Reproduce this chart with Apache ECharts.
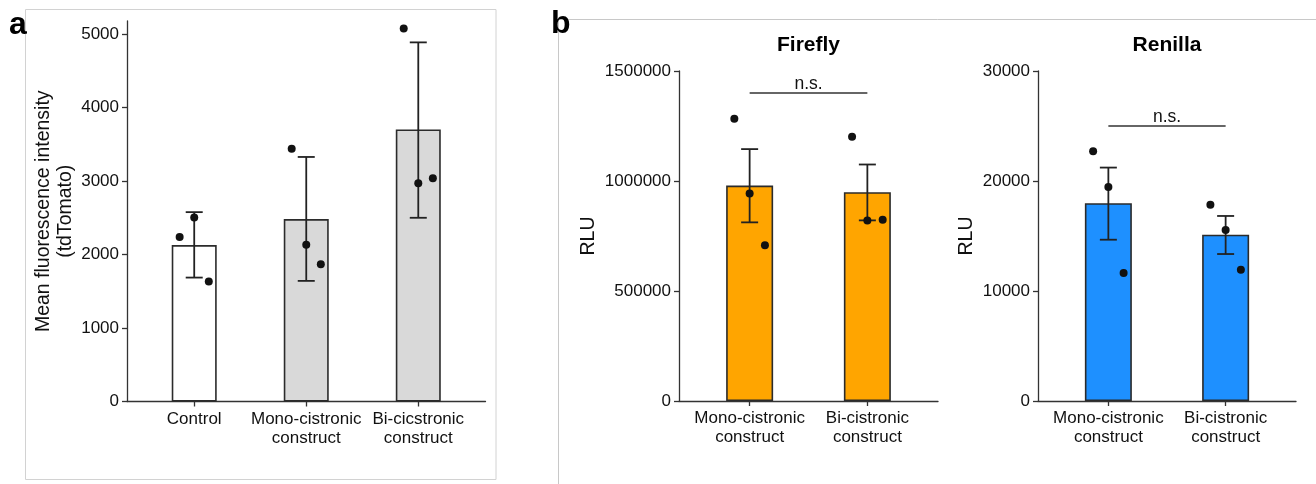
<!DOCTYPE html>
<html>
<head>
<meta charset="utf-8">
<script src="https://cdn.jsdelivr.net/npm/echarts@6/dist/echarts.min.js"></script>
<style>
html,body{margin:0;padding:0;background:#fff;}
#chart{width:1316px;height:484px;}
</style>
</head>
<body>
<div id="chart"></div>
<script>
// ---------- DATA ----------
const catsA = ['Control', 'Mono-cistronic\nconstruct', 'Bi-cicstronic\nconstruct'];
const meanA = [2130, 2483, 3704];
const errLoA = [1687, 1642, 2501];
const errHiA = [2578, 3329, 4889];
const pointsA = [[2239, 2506, 1633], [3442, 2134, 1868], [5079, 2971, 3039]];
const yTicksA = [0, 1000, 2000, 3000, 4000, 5000];

const catsB = ['Mono-cistronic\nconstruct', 'Bi-cistronic\nconstruct'];
const meanFirefly = [979000, 949000];
const errLoFirefly = [812000, 821000];
const errHiFirefly = [1145000, 1075000];
const pointsFirefly = [[1283000, 943000, 708000], [1201000, 821000, 824000]];
const yTicksFirefly = [0, 500000, 1000000, 1500000];
const sigFirefly = [[0, 1, 1400000, 'n.s.']];

const meanRenilla = [17978, 15118];
const errLoRenilla = [14663, 13361];
const errHiRenilla = [21220, 16821];
const pointsRenilla = [[22714, 19463, 11630], [17851, 15546, 11931]];
const yTicksRenilla = [0, 10000, 20000, 30000];
const sigRenilla = [[0, 1, 25000, 'n.s.']];

const jitter = [-0.13, 0, 0.13];

// ---------- STYLE ----------
const FONT = '"Liberation Sans", Arial, Helvetica, sans-serif';
const AXIS_COLOR = '#333';
const TEXT_COLOR = '#111';

function xAxisCfg(gridIndex, cats, max) {
  const idx = cats.map((c, i) => i);
  return {
    type: 'value', gridIndex, min: -0.6, max: max,
    axisLine: {show: true, onZero: false, lineStyle: {color: AXIS_COLOR, width: 1.3}},
    axisTick: {show: true, length: 5, customValues: idx, lineStyle: {color: AXIS_COLOR, width: 1.3}},
    axisLabel: {customValues: idx, formatter: v => cats[Math.round(v)], color: TEXT_COLOR,
      fontSize: 17, fontFamily: FONT, lineHeight: 19, margin: 8},
    splitLine: {show: false}
  };
}
function yAxisCfg(gridIndex, ticks, max, name, nameGap, interval) {
  return {
    type: 'value', gridIndex, min: 0, max: max, interval: interval,
    name: name, nameLocation: 'middle', nameGap: nameGap, nameMoveOverlap: false,
    nameTextStyle: {fontSize: 19.5, fontFamily: FONT, color: TEXT_COLOR, lineHeight: 22},
    axisLine: {show: true, onZero: false, lineStyle: {color: AXIS_COLOR, width: 1.3}},
    axisTick: {show: true, length: 5, customValues: ticks, lineStyle: {color: AXIS_COLOR, width: 1.3}},
    axisLabel: {customValues: ticks, formatter: v => String(v), color: TEXT_COLOR, fontSize: 17, fontFamily: FONT, margin: 8},
    splitLine: {show: false}
  };
}
function barSeries(idx, means, colors, width) {
  return {
    type: 'bar', xAxisIndex: idx, yAxisIndex: idx, barWidth: width, z: 2,
    data: means.map((m, i) => ({value: [i, m], itemStyle: {color: colors[i]}})),
    itemStyle: {borderColor: '#2b2b2b', borderWidth: 1.6},
    emphasis: {disabled: true}, animation: false
  };
}
function errSeries(idx, lo, hi) {
  return {
    type: 'custom', xAxisIndex: idx, yAxisIndex: idx, z: 3, animation: false,
    data: lo.map((l, i) => [i, l, hi[i]]),
    encode: {x: 0, y: [1, 2]},
    renderItem: function (params, api) {
      const x = api.value(0);
      const a = api.coord([x, api.value(1)]);
      const b = api.coord([x, api.value(2)]);
      const hw = 8.5;
      const st = {stroke: '#222', lineWidth: 1.8};
      return {type: 'group', children: [
        {type: 'line', shape: {x1: a[0], y1: a[1], x2: b[0], y2: b[1]}, style: st},
        {type: 'line', shape: {x1: a[0] - hw, y1: a[1], x2: a[0] + hw, y2: a[1]}, style: st},
        {type: 'line', shape: {x1: b[0] - hw, y1: b[1], x2: b[0] + hw, y2: b[1]}, style: st}
      ]};
    }
  };
}
function pointSeries(idx, pts) {
  const data = [];
  pts.forEach((arr, i) => arr.forEach((v, j) => data.push([i + jitter[j], v])));
  return {
    type: 'scatter', xAxisIndex: idx, yAxisIndex: idx, z: 4, animation: false,
    symbolSize: 8, itemStyle: {color: '#111', opacity: 1},
    data: data, emphasis: {disabled: true}
  };
}
function sigSeries(idx, sig) {
  return {
    type: 'custom', xAxisIndex: idx, yAxisIndex: idx, z: 3, animation: false,
    data: sig.map(s => [s[0], s[1], s[2]]),
    encode: {x: [0, 1], y: 2},
    renderItem: function (params, api) {
      const p1 = api.coord([api.value(0), api.value(2)]);
      const p2 = api.coord([api.value(1), api.value(2)]);
      const label = sig[params.dataIndex][3];
      return {type: 'group', children: [
        {type: 'line', shape: {x1: p1[0], y1: p1[1], x2: p2[0], y2: p2[1]}, style: {stroke: '#333', lineWidth: 1.3}},
        {type: 'text', x: (p1[0] + p2[0]) / 2, y: p1[1],
          style: {text: label, align: 'center', verticalAlign: 'bottom', fontSize: 17.5, fontFamily: FONT, fill: TEXT_COLOR}}
      ]};
    }
  };
}

const chart = echarts.init(document.getElementById('chart'), null, {renderer: 'canvas'});
const option = {
  backgroundColor: '#fff',
  animation: false,
  grid: [
    {left: 127, right: 1316 - 485.5, top: 21, bottom: 484 - 401.5},
    {left: 679, right: 1316 - 938, top: 71, bottom: 484 - 401},
    {left: 1038, right: 20, top: 71, bottom: 484 - 401}
  ],
  xAxis: [
    xAxisCfg(0, catsA, 2.6),
    xAxisCfg(1, catsB, 1.6),
    xAxisCfg(2, catsB, 1.6)
  ],
  yAxis: [
    yAxisCfg(0, yTicksA, 5180, 'Mean fluorescence intensity\n(tdTomato)', 50, 1000),
    yAxisCfg(1, yTicksFirefly, 1500000, 'RLU', 79, 500000),
    yAxisCfg(2, yTicksRenilla, 30000, 'RLU', 60, 10000)
  ],
  graphic: [
    {type: 'rect', shape: {x: 25.5, y: 9.5, width: 470.5, height: 470}, style: {fill: 'none', stroke: '#d2d2d2', lineWidth: 1}, silent: true, z: -1},
    {type: 'line', shape: {x1: 558.5, y1: 19.5, x2: 1316, y2: 19.5}, style: {stroke: '#c8c8c8', lineWidth: 1}, silent: true},
    {type: 'line', shape: {x1: 558.5, y1: 19.5, x2: 558.5, y2: 484}, style: {stroke: '#c8c8c8', lineWidth: 1}, silent: true},
    {type: 'text', x: 9, y: 41, style: {text: 'a', fontSize: 32, fontWeight: 'bold', fontFamily: FONT, fill: '#000', verticalAlign: 'bottom'}, silent: true},
    {type: 'text', x: 551, y: 40, style: {text: 'b', fontSize: 32, fontWeight: 'bold', fontFamily: FONT, fill: '#000', verticalAlign: 'bottom'}, silent: true},
    {type: 'text', x: 808.5, y: 45, style: {text: 'Firefly', fontSize: 21, fontWeight: 'bold', fontFamily: FONT, fill: '#000', align: 'center', verticalAlign: 'middle'}, silent: true},
    {type: 'text', x: 1167, y: 45, style: {text: 'Renilla', fontSize: 21, fontWeight: 'bold', fontFamily: FONT, fill: '#000', align: 'center', verticalAlign: 'middle'}, silent: true}
  ],
  series: [
    barSeries(0, meanA, ['#ffffff', '#d9d9d9', '#d9d9d9'], 45),
    errSeries(0, errLoA, errHiA),
    pointSeries(0, pointsA),
    barSeries(1, meanFirefly, ['#ffa500', '#ffa500'], 47),
    errSeries(1, errLoFirefly, errHiFirefly),
    pointSeries(1, pointsFirefly),
    sigSeries(1, sigFirefly),
    barSeries(2, meanRenilla, ['#1e90ff', '#1e90ff'], 47),
    errSeries(2, errLoRenilla, errHiRenilla),
    pointSeries(2, pointsRenilla),
    sigSeries(2, sigRenilla)
  ]
};
chart.setOption(option);
</script>
</body>
</html>
